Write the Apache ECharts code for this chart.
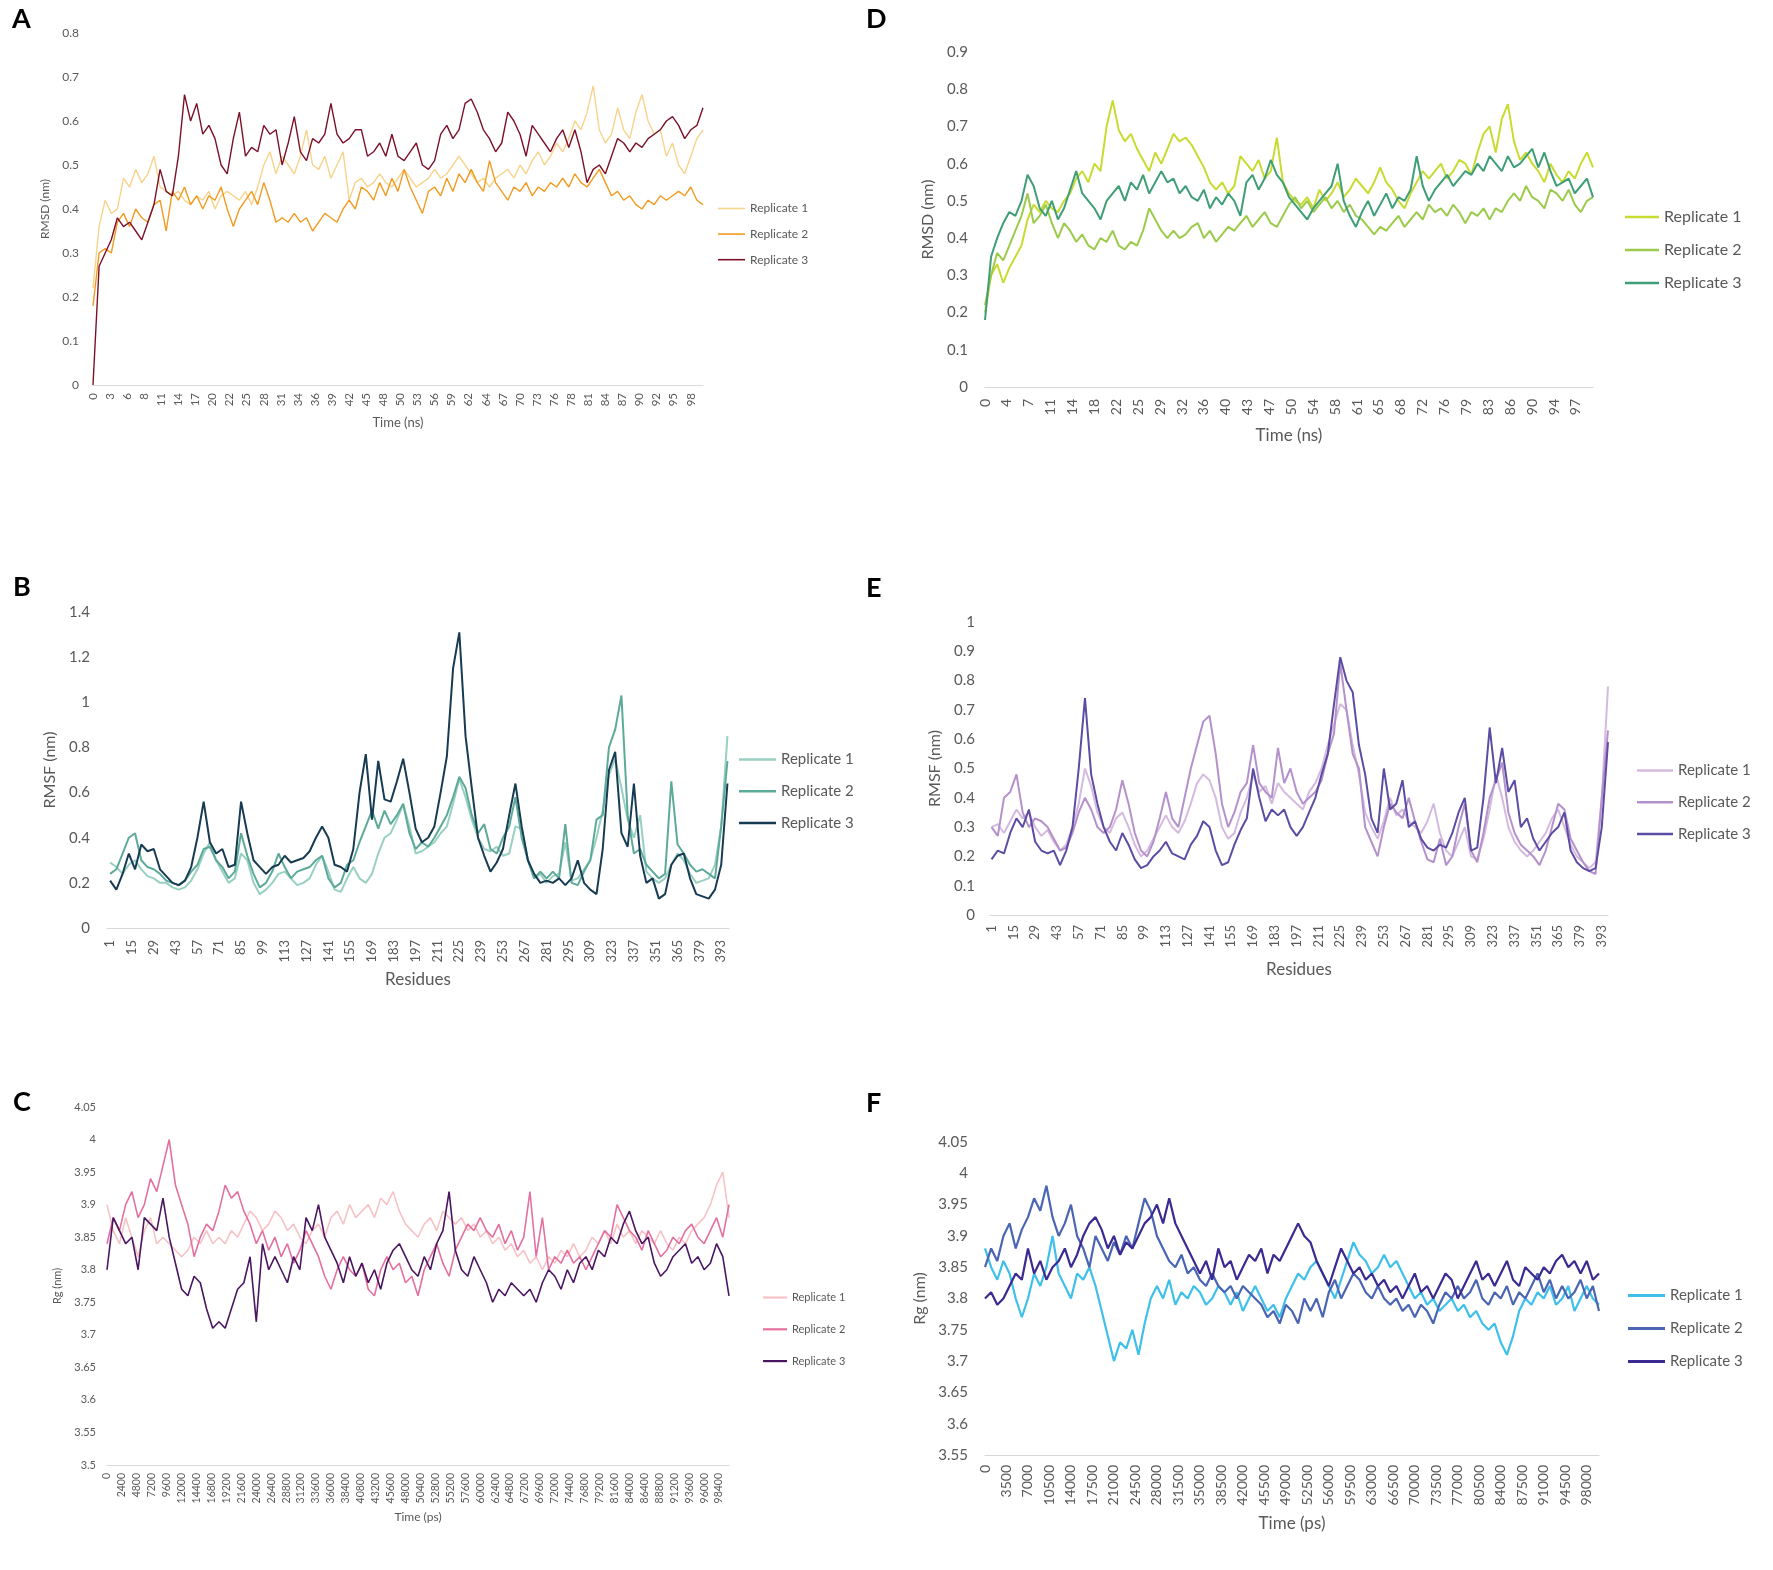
<!DOCTYPE html>
<html>
<head>
<meta charset="utf-8">
<script src="https://cdn.jsdelivr.net/npm/echarts@6/dist/echarts.min.js"></script>
<style>
  body { margin: 0; background: #fff; }
  .panel { position: absolute; }
</style>
</head>
<body>
<div id="pA" class="panel" style="left:0;top:0;width:886px;height:540px"></div>
<div id="pD" class="panel" style="left:850px;top:0;width:923px;height:540px"></div>
<div id="pB" class="panel" style="left:0;top:540px;width:886px;height:520px"></div>
<div id="pE" class="panel" style="left:850px;top:540px;width:923px;height:520px"></div>
<div id="pC" class="panel" style="left:0;top:1060px;width:886px;height:510px"></div>
<div id="pF" class="panel" style="left:850px;top:1060px;width:923px;height:510px"></div>
<script>
// tick labels
const ticksA = [0,3,6,8,11,14,17,20,22,25,28,31,34,36,39,42,45,48,50,53,56,59,62,64,67,70,73,76,78,81,84,87,90,92,95,98];
const ticksD = [0,4,7,11,14,18,22,25,29,32,36,40,43,47,50,54,58,61,65,68,72,76,79,83,86,90,94,97];
const ticksResidue = [1,15,29,43,57,71,85,99,113,127,141,155,169,183,197,211,225,239,253,267,281,295,309,323,337,351,365,379,393];
const ticksC = [0,2400,4800,7200,9600,12000,14400,16800,19200,21600,24000,26400,28800,31200,33600,36000,38400,40800,43200,45600,48000,50400,52800,55200,57600,60000,62400,64800,67200,69600,72000,74400,76800,79200,81600,84000,86400,88800,91200,93600,96000,98400];
const ticksF = [0,3500,7000,10500,14000,17500,21000,24500,28000,31500,35000,38500,42000,45500,49000,52500,56000,59500,63000,66500,70000,73500,77000,80500,84000,87500,91000,94500,98000];
const replicates = ['Replicate 1', 'Replicate 2', 'Replicate 3'];

// A: RMSD (nm), one value per ns
const rmsdA1 = [0.22,0.36,0.42,0.39,0.40,0.47,0.45,0.49,0.46,0.48,
  0.52,0.45,0.44,0.43,0.44,0.42,0.41,0.43,0.42,0.44,
  0.40,0.43,0.44,0.43,0.42,0.44,0.41,0.45,0.50,0.53,
  0.48,0.52,0.50,0.48,0.52,0.58,0.50,0.49,0.52,0.47,
  0.50,0.53,0.42,0.46,0.47,0.45,0.46,0.48,0.46,0.45,
  0.47,0.49,0.47,0.45,0.46,0.47,0.49,0.47,0.48,0.50,
  0.52,0.50,0.48,0.46,0.47,0.45,0.47,0.48,0.49,0.47,
  0.50,0.48,0.51,0.53,0.50,0.52,0.55,0.53,0.56,0.60,
  0.58,0.62,0.68,0.58,0.55,0.57,0.63,0.58,0.56,0.62,
  0.66,0.60,0.57,0.58,0.52,0.55,0.50,0.48,0.52,0.56,0.58];
const rmsdA2 = [0.18,0.30,0.31,0.30,0.37,0.39,0.36,0.40,0.38,0.37,
  0.41,0.42,0.35,0.44,0.42,0.45,0.41,0.43,0.40,0.43,
  0.42,0.45,0.40,0.36,0.40,0.42,0.44,0.41,0.46,0.42,
  0.37,0.38,0.37,0.39,0.37,0.38,0.35,0.37,0.39,0.38,
  0.37,0.40,0.42,0.40,0.45,0.44,0.42,0.46,0.43,0.47,
  0.44,0.49,0.45,0.42,0.39,0.44,0.45,0.43,0.47,0.44,
  0.48,0.46,0.49,0.46,0.44,0.51,0.46,0.44,0.42,0.45,
  0.44,0.46,0.43,0.45,0.44,0.46,0.45,0.47,0.45,0.48,
  0.46,0.45,0.47,0.49,0.46,0.43,0.44,0.42,0.43,0.41,
  0.40,0.42,0.41,0.43,0.42,0.43,0.44,0.43,0.45,0.42,0.41];
const rmsdA3 = [0.00,0.27,0.30,0.33,0.38,0.36,0.37,0.35,0.33,0.37,
  0.41,0.49,0.44,0.43,0.52,0.66,0.60,0.64,0.57,0.59,
  0.56,0.50,0.48,0.56,0.62,0.52,0.54,0.53,0.59,0.57,
  0.58,0.50,0.55,0.61,0.53,0.51,0.56,0.55,0.57,0.64,
  0.57,0.55,0.56,0.58,0.58,0.52,0.53,0.55,0.52,0.57,
  0.52,0.51,0.53,0.55,0.50,0.49,0.51,0.57,0.59,0.56,
  0.58,0.64,0.65,0.62,0.58,0.56,0.53,0.55,0.62,0.60,
  0.57,0.52,0.59,0.57,0.55,0.53,0.56,0.58,0.54,0.58,
  0.53,0.46,0.49,0.50,0.48,0.52,0.56,0.55,0.53,0.55,
  0.54,0.56,0.57,0.58,0.60,0.61,0.59,0.56,0.58,0.59,0.63];

// D: RMSD (nm), one value per ns
const rmsdD1 = [0.20,0.30,0.33,0.28,0.32,0.35,0.38,0.45,0.49,0.47,
  0.50,0.48,0.47,0.50,0.52,0.56,0.58,0.55,0.60,0.58,
  0.70,0.77,0.69,0.66,0.68,0.64,0.61,0.58,0.63,0.60,
  0.64,0.68,0.66,0.67,0.65,0.62,0.59,0.55,0.53,0.55,
  0.52,0.54,0.62,0.60,0.58,0.61,0.56,0.58,0.67,0.55,
  0.52,0.50,0.49,0.51,0.48,0.53,0.50,0.52,0.55,0.51,
  0.53,0.56,0.54,0.52,0.55,0.59,0.55,0.53,0.50,0.48,
  0.52,0.55,0.58,0.56,0.58,0.60,0.56,0.58,0.61,0.60,
  0.57,0.63,0.68,0.70,0.63,0.72,0.76,0.66,0.61,0.63,
  0.60,0.58,0.55,0.60,0.57,0.55,0.58,0.56,0.60,0.63,0.59];
const rmsdD2 = [0.22,0.30,0.36,0.34,0.38,0.42,0.46,0.52,0.44,0.46,
  0.49,0.44,0.40,0.44,0.42,0.39,0.41,0.38,0.37,0.40,
  0.39,0.42,0.38,0.37,0.39,0.38,0.42,0.48,0.45,0.42,
  0.40,0.42,0.40,0.41,0.43,0.44,0.40,0.42,0.39,0.41,
  0.43,0.42,0.44,0.46,0.43,0.45,0.47,0.44,0.43,0.46,
  0.49,0.51,0.48,0.50,0.47,0.49,0.51,0.48,0.50,0.47,
  0.49,0.46,0.45,0.43,0.41,0.43,0.42,0.44,0.46,0.43,
  0.45,0.47,0.45,0.49,0.47,0.48,0.46,0.49,0.47,0.44,
  0.47,0.46,0.48,0.45,0.48,0.47,0.50,0.52,0.50,0.54,
  0.51,0.50,0.48,0.53,0.52,0.50,0.53,0.49,0.47,0.50,0.51];
const rmsdD3 = [0.18,0.35,0.40,0.44,0.47,0.46,0.50,0.57,0.54,0.48,
  0.46,0.50,0.45,0.48,0.53,0.58,0.52,0.50,0.48,0.45,
  0.50,0.52,0.54,0.50,0.55,0.53,0.57,0.52,0.55,0.58,
  0.55,0.56,0.52,0.54,0.51,0.50,0.53,0.48,0.51,0.49,
  0.52,0.50,0.46,0.55,0.57,0.53,0.56,0.61,0.57,0.55,
  0.51,0.49,0.47,0.45,0.48,0.50,0.52,0.54,0.60,0.50,
  0.46,0.43,0.47,0.50,0.46,0.49,0.52,0.48,0.51,0.50,
  0.53,0.62,0.54,0.50,0.53,0.55,0.57,0.54,0.56,0.58,
  0.57,0.60,0.58,0.62,0.60,0.58,0.62,0.59,0.60,0.62,
  0.64,0.59,0.63,0.58,0.54,0.55,0.56,0.52,0.54,0.56,0.51];

// B: RMSF (nm), every 4th residue from 1
const rmsfB1 = [0.29,0.27,0.24,0.28,0.30,0.26,0.23,0.22,0.20,0.20,
  0.18,0.17,0.18,0.21,0.26,0.33,0.38,0.30,0.25,0.20,
  0.22,0.33,0.30,0.20,0.15,0.17,0.20,0.24,0.25,0.22,
  0.19,0.20,0.22,0.28,0.32,0.25,0.17,0.16,0.22,0.27,
  0.22,0.20,0.24,0.33,0.40,0.42,0.48,0.55,0.45,0.33,
  0.34,0.36,0.38,0.42,0.45,0.55,0.66,0.58,0.48,0.40,
  0.35,0.34,0.36,0.32,0.33,0.45,0.44,0.30,0.22,0.24,
  0.20,0.23,0.24,0.38,0.21,0.22,0.26,0.30,0.40,0.52,
  0.68,0.75,0.62,0.48,0.40,0.50,0.25,0.22,0.20,0.22,
  0.28,0.33,0.30,0.24,0.20,0.21,0.22,0.28,0.45,0.85];
const rmsfB2 = [0.24,0.26,0.33,0.40,0.42,0.30,0.27,0.26,0.24,0.21,
  0.20,0.19,0.21,0.25,0.28,0.35,0.36,0.30,0.27,0.22,
  0.25,0.42,0.32,0.24,0.18,0.20,0.25,0.33,0.27,0.22,
  0.25,0.26,0.27,0.30,0.32,0.22,0.18,0.20,0.28,0.30,
  0.38,0.45,0.52,0.44,0.52,0.46,0.50,0.55,0.42,0.35,
  0.38,0.36,0.40,0.45,0.50,0.58,0.67,0.62,0.50,0.42,
  0.46,0.35,0.33,0.40,0.45,0.58,0.40,0.30,0.22,0.25,
  0.22,0.25,0.22,0.46,0.20,0.19,0.25,0.30,0.48,0.50,
  0.80,0.88,1.03,0.50,0.33,0.35,0.28,0.25,0.22,0.24,
  0.65,0.37,0.33,0.28,0.25,0.26,0.24,0.22,0.45,0.74];
const rmsfB3 = [0.21,0.17,0.24,0.33,0.26,0.37,0.34,0.35,0.26,0.23,
  0.20,0.19,0.21,0.27,0.40,0.56,0.38,0.33,0.35,0.27,
  0.28,0.56,0.42,0.30,0.27,0.24,0.27,0.28,0.32,0.29,
  0.30,0.31,0.34,0.40,0.45,0.40,0.28,0.27,0.25,0.35,
  0.60,0.77,0.48,0.74,0.57,0.56,0.65,0.75,0.60,0.44,
  0.38,0.40,0.45,0.60,0.76,1.15,1.31,0.85,0.62,0.40,
  0.32,0.25,0.29,0.35,0.50,0.64,0.45,0.30,0.24,0.20,
  0.21,0.20,0.22,0.19,0.22,0.30,0.20,0.17,0.15,0.35,
  0.70,0.78,0.42,0.36,0.64,0.32,0.20,0.22,0.13,0.15,
  0.28,0.32,0.33,0.22,0.15,0.14,0.13,0.17,0.28,0.64];

// E: RMSF (nm), every 4th residue from 1
const rmsfE1 = [0.30,0.31,0.28,0.32,0.36,0.33,0.35,0.30,0.27,0.29,
  0.25,0.22,0.24,0.30,0.38,0.50,0.44,0.35,0.30,0.28,
  0.33,0.35,0.30,0.24,0.20,0.22,0.26,0.30,0.34,0.30,
  0.28,0.32,0.38,0.45,0.48,0.46,0.40,0.30,0.26,0.28,
  0.35,0.40,0.48,0.42,0.44,0.38,0.45,0.42,0.40,0.38,
  0.36,0.42,0.45,0.50,0.58,0.65,0.72,0.70,0.58,0.48,
  0.35,0.30,0.26,0.32,0.40,0.34,0.36,0.32,0.30,0.28,
  0.32,0.38,0.28,0.22,0.20,0.25,0.30,0.20,0.19,0.26,
  0.36,0.48,0.40,0.30,0.25,0.22,0.20,0.22,0.25,0.28,
  0.33,0.36,0.30,0.24,0.20,0.18,0.16,0.18,0.40,0.78];
const rmsfE2 = [0.30,0.27,0.40,0.42,0.48,0.35,0.30,0.33,0.32,0.30,
  0.26,0.22,0.23,0.28,0.35,0.40,0.36,0.30,0.28,0.30,
  0.36,0.46,0.38,0.28,0.22,0.20,0.25,0.33,0.42,0.33,
  0.30,0.40,0.50,0.58,0.66,0.68,0.55,0.38,0.30,0.35,
  0.42,0.45,0.58,0.45,0.42,0.40,0.57,0.45,0.50,0.42,
  0.38,0.40,0.42,0.46,0.55,0.62,0.86,0.70,0.55,0.50,
  0.30,0.25,0.20,0.30,0.38,0.35,0.33,0.40,0.32,0.25,
  0.19,0.18,0.26,0.17,0.20,0.30,0.38,0.22,0.18,0.28,
  0.40,0.46,0.52,0.35,0.28,0.24,0.22,0.20,0.17,0.22,
  0.30,0.38,0.36,0.26,0.22,0.18,0.15,0.14,0.40,0.63];
const rmsfE3 = [0.19,0.22,0.21,0.28,0.33,0.30,0.36,0.25,0.22,0.21,
  0.22,0.17,0.22,0.30,0.50,0.74,0.48,0.38,0.30,0.25,
  0.22,0.28,0.24,0.19,0.16,0.17,0.20,0.22,0.25,0.21,
  0.20,0.19,0.24,0.27,0.32,0.30,0.22,0.17,0.18,0.24,
  0.29,0.33,0.50,0.40,0.32,0.36,0.34,0.36,0.30,0.27,
  0.30,0.35,0.40,0.48,0.55,0.72,0.88,0.80,0.76,0.58,
  0.48,0.33,0.28,0.50,0.36,0.38,0.46,0.30,0.32,0.26,
  0.23,0.22,0.24,0.23,0.28,0.35,0.40,0.22,0.23,0.40,
  0.64,0.45,0.57,0.42,0.46,0.30,0.33,0.26,0.22,0.25,
  0.28,0.30,0.35,0.22,0.18,0.16,0.15,0.16,0.30,0.59];

// C: Rg (nm), one value per 1000 ps
const rgC1 = [3.90,3.86,3.84,3.88,3.85,3.82,3.86,3.88,3.84,3.85,
  3.84,3.83,3.82,3.83,3.85,3.84,3.86,3.84,3.85,3.84,
  3.86,3.85,3.87,3.89,3.88,3.86,3.87,3.89,3.88,3.86,
  3.87,3.85,3.84,3.86,3.87,3.85,3.88,3.89,3.87,3.90,
  3.88,3.89,3.90,3.88,3.91,3.90,3.92,3.89,3.87,3.86,
  3.85,3.87,3.88,3.86,3.89,3.88,3.87,3.88,3.86,3.87,
  3.85,3.86,3.84,3.85,3.83,3.84,3.82,3.83,3.81,3.82,
  3.80,3.82,3.81,3.83,3.82,3.84,3.82,3.83,3.85,3.84,
  3.86,3.84,3.87,3.85,3.86,3.84,3.86,3.85,3.84,3.86,
  3.84,3.83,3.85,3.84,3.86,3.87,3.88,3.90,3.93,3.95,3.88];
const rgC2 = [3.84,3.88,3.86,3.90,3.92,3.88,3.90,3.94,3.92,3.96,
  4.00,3.93,3.90,3.87,3.82,3.85,3.87,3.86,3.89,3.93,
  3.91,3.92,3.89,3.87,3.84,3.86,3.83,3.85,3.82,3.84,
  3.81,3.83,3.86,3.84,3.82,3.79,3.77,3.80,3.82,3.80,
  3.79,3.81,3.77,3.76,3.80,3.82,3.80,3.81,3.78,3.79,
  3.76,3.80,3.82,3.84,3.81,3.79,3.83,3.85,3.87,3.86,
  3.88,3.86,3.85,3.87,3.84,3.86,3.83,3.85,3.92,3.82,
  3.88,3.80,3.82,3.81,3.83,3.81,3.82,3.80,3.82,3.84,
  3.86,3.85,3.90,3.88,3.86,3.85,3.83,3.86,3.84,3.82,
  3.83,3.85,3.84,3.86,3.87,3.85,3.84,3.86,3.88,3.85,3.90];
const rgC3 = [3.80,3.88,3.86,3.84,3.85,3.80,3.88,3.87,3.86,3.91,
  3.85,3.81,3.77,3.76,3.79,3.78,3.74,3.71,3.72,3.71,
  3.74,3.77,3.78,3.82,3.72,3.84,3.80,3.82,3.80,3.78,
  3.82,3.80,3.88,3.86,3.90,3.85,3.83,3.81,3.78,3.82,
  3.79,3.81,3.78,3.80,3.77,3.81,3.83,3.84,3.82,3.80,
  3.79,3.82,3.80,3.84,3.86,3.92,3.83,3.80,3.79,3.82,
  3.80,3.78,3.75,3.77,3.76,3.78,3.77,3.76,3.77,3.75,
  3.78,3.80,3.79,3.77,3.80,3.78,3.81,3.82,3.80,3.83,
  3.82,3.85,3.84,3.87,3.89,3.86,3.84,3.85,3.81,3.79,
  3.80,3.82,3.83,3.84,3.81,3.82,3.80,3.81,3.84,3.82,3.76];

// F: Rg (nm), one value per 1000 ps
const rgF1 = [3.88,3.85,3.83,3.86,3.84,3.80,3.77,3.80,3.84,3.82,
  3.85,3.90,3.84,3.82,3.80,3.84,3.83,3.85,3.82,3.78,
  3.74,3.70,3.73,3.72,3.75,3.71,3.76,3.80,3.82,3.80,
  3.83,3.79,3.81,3.80,3.82,3.81,3.79,3.80,3.82,3.81,
  3.79,3.81,3.78,3.80,3.82,3.80,3.78,3.79,3.77,3.80,
  3.82,3.84,3.83,3.85,3.86,3.84,3.82,3.80,3.83,3.86,
  3.89,3.87,3.86,3.84,3.85,3.87,3.85,3.86,3.84,3.82,
  3.80,3.81,3.79,3.80,3.78,3.79,3.80,3.78,3.79,3.77,
  3.78,3.76,3.75,3.76,3.73,3.71,3.74,3.78,3.80,3.79,
  3.81,3.80,3.82,3.79,3.80,3.82,3.78,3.80,3.82,3.80,3.79];
const rgF2 = [3.85,3.88,3.86,3.90,3.92,3.88,3.91,3.93,3.96,3.94,
  3.98,3.93,3.90,3.92,3.95,3.90,3.88,3.85,3.90,3.88,
  3.86,3.89,3.87,3.90,3.88,3.92,3.96,3.94,3.90,3.88,
  3.86,3.85,3.87,3.84,3.85,3.83,3.82,3.84,3.82,3.81,
  3.82,3.80,3.82,3.81,3.80,3.79,3.77,3.78,3.76,3.79,
  3.78,3.76,3.80,3.78,3.80,3.77,3.81,3.83,3.80,3.82,
  3.84,3.83,3.81,3.80,3.82,3.80,3.79,3.80,3.78,3.79,
  3.77,3.79,3.78,3.76,3.79,3.81,3.80,3.82,3.80,3.81,
  3.83,3.80,3.79,3.81,3.80,3.82,3.79,3.81,3.80,3.82,
  3.84,3.81,3.83,3.80,3.82,3.80,3.81,3.83,3.80,3.82,3.78];
const rgF3 = [3.80,3.81,3.79,3.80,3.82,3.84,3.83,3.88,3.84,3.86,
  3.83,3.85,3.86,3.88,3.85,3.87,3.90,3.92,3.93,3.91,
  3.88,3.90,3.87,3.89,3.88,3.90,3.92,3.93,3.95,3.92,
  3.96,3.92,3.90,3.88,3.86,3.84,3.86,3.83,3.88,3.85,
  3.86,3.83,3.85,3.87,3.86,3.88,3.84,3.87,3.86,3.88,
  3.90,3.92,3.90,3.89,3.86,3.84,3.82,3.85,3.88,3.86,
  3.84,3.85,3.83,3.84,3.82,3.83,3.81,3.82,3.80,3.82,
  3.84,3.81,3.82,3.80,3.82,3.84,3.83,3.80,3.82,3.84,
  3.86,3.83,3.84,3.82,3.84,3.86,3.83,3.82,3.85,3.84,
  3.83,3.85,3.84,3.86,3.87,3.85,3.86,3.84,3.86,3.83,3.84];

const textColor = '#595959';
const fontName = 'Lato';

// pairs an x step with the read values
function toPoints(values, x0, dx) {
  return values.map((v, i) => [x0 + i * dx, v]);
}

function drawPanel(id, p) {
  const chart = echarts.init(document.getElementById(id));
  const series = p.values.map((vals, k) => ({
    name: replicates[k],
    type: 'line',
    symbol: 'none',
    data: toPoints(vals, p.x0, p.dx),
    lineStyle: { width: p.lineWidth, color: p.colors[k] },
    itemStyle: { color: p.colors[k] },
    emphasis: { disabled: true }
  }));
  const lg = p.legend;
  chart.setOption({
    animation: false,
    title: {
      text: p.letter, left: p.letterPos[0], top: p.letterPos[1],
      textStyle: { fontFamily: fontName, fontWeight: 'bold', fontSize: 27, color: '#000' }
    },
    legend: {
      orient: 'vertical', left: lg.left, top: lg.top, padding: 0,
      icon: 'rect', itemWidth: lg.itemWidth, itemHeight: lg.thick, itemGap: lg.itemGap,
      selectedMode: false,
      textStyle: { color: textColor, fontFamily: fontName, fontSize: lg.fontSize, lineHeight: lg.fontSize + 2 },
      data: replicates
    },
    grid: p.grid,
    xAxis: {
      type: 'value', min: p.x.min, max: p.x.max,
      name: p.x.name, nameLocation: 'middle', nameGap: p.x.nameGap,
      nameTextStyle: { color: textColor, fontFamily: fontName, fontSize: p.x.nameSize },
      axisLine: { lineStyle: { color: '#d9d9d9', width: 1.2 } },
      axisTick: { show: false },
      splitLine: { show: false },
      axisLabel: {
        customValues: p.x.positions, rotate: 90, margin: p.x.margin,
        color: textColor, fontFamily: fontName, fontSize: p.x.labelSize,
        formatter: (v) => {
          const i = p.x.positions.findIndex((q) => Math.abs(q - v) < 1e-6);
          return i >= 0 ? String(p.x.labels[i]) : '';
        }
      }
    },
    yAxis: {
      type: 'value', min: p.y.min, max: p.y.max, interval: p.y.interval,
      name: p.y.name, nameLocation: 'middle', nameGap: p.y.nameGap,
      nameTextStyle: { color: textColor, fontFamily: fontName, fontSize: p.y.nameSize },
      axisLine: { show: false }, axisTick: { show: false }, splitLine: { show: false },
      axisLabel: { color: textColor, fontFamily: fontName, fontSize: p.y.labelSize, margin: p.y.margin }
    },
    series: series
  });
}

drawPanel('pA', {
  letter: 'A', letterPos: [7, 1],
  grid: { left: 93, top: 33, width: 610, height: 352 },
  values: [rmsdA1, rmsdA2, rmsdA3], x0: 0, dx: 1,
  colors: ['#f7d38c', '#f29b21', '#7c1029'], lineWidth: 1.4,
  x: { min: 0, max: 100, labels: ticksA, positions: ticksA.map((_, i) => i * 2.8),
       name: 'Time (ns)', nameGap: 31, nameSize: 13, labelSize: 11.5, margin: 8 },
  y: { min: 0, max: 0.8, interval: 0.1, name: 'RMSD (nm)', nameGap: 29, nameSize: 12, labelSize: 12, margin: 14 },
  legend: { left: 718, top: 201.5, itemWidth: 27, thick: 1.6, itemGap: 11.6, fontSize: 12 }
});

drawPanel('pD', {
  letter: 'D', letterPos: [11, 1],
  grid: { left: 135, top: 52, width: 608, height: 335 },
  values: [rmsdD1, rmsdD2, rmsdD3], x0: 0, dx: 1,
  colors: ['#c8db30', '#9ccb4c', '#3f9e77'], lineWidth: 2,
  x: { min: 0, max: 100, labels: ticksD, positions: ticksD.map((_, i) => i * 3.6),
       name: 'Time (ns)', nameGap: 40, nameSize: 17, labelSize: 14, margin: 12 },
  y: { min: 0, max: 0.9, interval: 0.1, name: 'RMSD (nm)', nameGap: 47, nameSize: 16, labelSize: 15, margin: 17 },
  legend: { left: 775, top: 208, itemWidth: 34, thick: 2.5, itemGap: 15, fontSize: 16 }
});

drawPanel('pB', {
  letter: 'B', letterPos: [8, 29],
  grid: { left: 107, top: 72, width: 622, height: 316 },
  values: [rmsfB1, rmsfB2, rmsfB3], x0: 1, dx: 4,
  colors: ['#98d0c2', '#5eaa99', '#173b53'], lineWidth: 2,
  x: { min: -1, max: 398, labels: ticksResidue, positions: ticksResidue,
       name: 'Residues', nameGap: 43, nameSize: 17, labelSize: 13, margin: 12 },
  y: { min: 0, max: 1.4, interval: 0.2, name: 'RMSF (nm)', nameGap: 40, nameSize: 16, labelSize: 15, margin: 17 },
  legend: { left: 739, top: 211, itemWidth: 37, thick: 2.5, itemGap: 14.8, fontSize: 15 }
});

drawPanel('pE', {
  letter: 'E', letterPos: [11, 30],
  grid: { left: 140, top: 82, width: 618, height: 293 },
  values: [rmsfE1, rmsfE2, rmsfE3], x0: 1, dx: 4,
  colors: ['#d5badf', '#b591cc', '#5d4ca4'], lineWidth: 2,
  x: { min: 0, max: 397, labels: ticksResidue, positions: ticksResidue,
       name: 'Residues', nameGap: 46, nameSize: 17, labelSize: 13, margin: 10 },
  y: { min: 0, max: 1, interval: 0.1, name: 'RMSF (nm)', nameGap: 42, nameSize: 16, labelSize: 15, margin: 15 },
  legend: { left: 787, top: 222, itemWidth: 36, thick: 2.5, itemGap: 14.8, fontSize: 15 }
});

drawPanel('pC', {
  letter: 'C', letterPos: [8, 24],
  grid: { left: 107, top: 47, width: 622, height: 358 },
  values: [rgC1, rgC2, rgC3], x0: 0, dx: 1000,
  colors: ['#f7c3c6', '#e4709f', '#4a1661'], lineWidth: 1.6,
  x: { min: 0, max: 100000, labels: ticksC, positions: ticksC,
       name: 'Time (ps)', nameGap: 44, nameSize: 12, labelSize: 10.5, margin: 8 },
  y: { min: 3.5, max: 4.05, interval: 0.05, name: 'Rg (nm)', nameGap: 31, nameSize: 11, labelSize: 11, margin: 11 },
  legend: { left: 763, top: 231, itemWidth: 24, thick: 2.2, itemGap: 18.8, fontSize: 11 }
});

drawPanel('pF', {
  letter: 'F', letterPos: [11, 25],
  grid: { left: 135, top: 82, width: 614, height: 313 },
  values: [rgF1, rgF2, rgF3], x0: 0, dx: 1000,
  colors: ['#3fc0ea', '#4a65b3', '#3a2a91'], lineWidth: 2.2,
  x: { min: 0, max: 100000, labels: ticksF, positions: ticksF,
       name: 'Time (ps)', nameGap: 60, nameSize: 17, labelSize: 14, margin: 10 },
  y: { min: 3.55, max: 4.05, interval: 0.05, name: 'Rg (nm)', nameGap: 54, nameSize: 16, labelSize: 15, margin: 17 },
  legend: { left: 778, top: 227, itemWidth: 37, thick: 3, itemGap: 16, fontSize: 15 }
});
</script>
</body>
</html>
